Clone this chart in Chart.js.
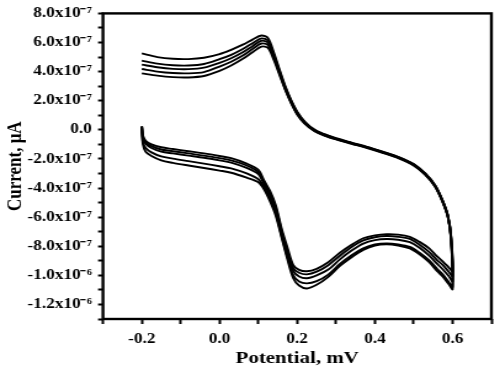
<!DOCTYPE html>
<html>
<head>
<meta charset="utf-8">
<script src="https://cdn.jsdelivr.net/npm/chart.js@4.4.1/dist/chart.umd.min.js"></script>
<style>
    body { margin: 0; background: #fff; }
</style>
</head>
<body>
<!-- the original figure is stretched sideways, so the canvas is too -->
<canvas id="cvChart" width="406" height="374" style="display:block;width:500px;height:374px"></canvas>
<script>
// potential (V) of the forward sweep, -0.2 -> 0.6
const upperPotential = [-0.2, -0.16, -0.12, -0.08, -0.04, 0.0, 0.03, 0.06, 0.085, 0.108, 0.125, 0.14, 0.155, 0.17, 0.185, 0.2, 0.22, 0.245, 0.27, 0.3, 0.34, 0.38, 0.42, 0.46, 0.5, 0.53, 0.555, 0.575, 0.588, 0.596, 0.6];
// potential (V) of the return sweep, 0.6 -> -0.2
const lowerPotential = [0.59, 0.575, 0.56, 0.54, 0.515, 0.49, 0.46, 0.43, 0.4, 0.37, 0.34, 0.31, 0.28, 0.25, 0.225, 0.205, 0.19, 0.175, 0.16, 0.145, 0.13, 0.115, 0.1, 0.07, 0.03, 0.0, -0.04, -0.08, -0.12, -0.15, -0.175, -0.19, -0.197, -0.2];

// current in units of 1e-7, one array per scan
const scan1Upper = [5.25, 5.0, 4.88, 4.86, 4.95, 5.2, 5.5, 5.85, 6.2, 6.48, 6.3, 5.3, 4.1, 2.95, 2.0, 1.25, 0.55, 0.0, -0.3, -0.58, -0.88, -1.17, -1.5, -1.85, -2.35, -3.0, -3.8, -4.9, -5.9, -7.3, -9.72];
const scan2Upper = [4.75, 4.55, 4.44, 4.42, 4.52, 4.85, 5.15, 5.55, 5.95, 6.28, 6.12, 5.15, 4.0, 2.88, 1.95, 1.2, 0.52, -0.02, -0.32, -0.6, -0.9, -1.19, -1.52, -1.87, -2.37, -3.02, -3.82, -4.92, -5.92, -7.35, -10.05];
const scan3Upper = [4.48, 4.3, 4.19, 4.17, 4.27, 4.6, 4.92, 5.33, 5.75, 6.12, 5.98, 5.05, 3.92, 2.82, 1.9, 1.15, 0.48, -0.05, -0.35, -0.62, -0.92, -1.21, -1.54, -1.9, -2.4, -3.05, -3.85, -4.95, -5.95, -7.4, -10.4];
const scan4Upper = [4.18, 4.0, 3.9, 3.88, 3.97, 4.35, 4.68, 5.1, 5.55, 5.93, 5.82, 4.95, 3.85, 2.76, 1.85, 1.1, 0.45, -0.08, -0.38, -0.64, -0.94, -1.23, -1.56, -1.92, -2.43, -3.08, -3.88, -4.98, -5.98, -7.45, -10.8];
const scan5Upper = [3.88, 3.72, 3.62, 3.6, 3.7, 4.05, 4.42, 4.88, 5.33, 5.72, 5.62, 4.8, 3.75, 2.7, 1.8, 1.05, 0.4, -0.1, -0.4, -0.66, -0.96, -1.25, -1.58, -1.95, -2.45, -3.1, -3.9, -5.0, -6.0, -7.5, -10.95];

const scan1Lower = [-9.45, -9.05, -8.7, -8.15, -7.7, -7.35, -7.2, -7.17, -7.25, -7.45, -7.9, -8.45, -9.1, -9.55, -9.72, -9.62, -9.3, -8.1, -6.8, -5.2, -4.2, -3.5, -2.75, -2.32, -1.95, -1.8, -1.62, -1.47, -1.32, -1.2, -1.0, -0.75, -0.4, 0.25];
const scan2Lower = [-9.75, -9.3, -8.95, -8.4, -7.9, -7.5, -7.35, -7.3, -7.38, -7.6, -8.05, -8.65, -9.3, -9.75, -9.93, -9.82, -9.5, -8.3, -6.95, -5.35, -4.35, -3.6, -2.9, -2.45, -2.1, -1.95, -1.77, -1.62, -1.47, -1.35, -1.12, -0.85, -0.5, 0.22];
const scan3Lower = [-10.05, -9.6, -9.2, -8.65, -8.1, -7.72, -7.55, -7.5, -7.58, -7.82, -8.3, -8.9, -9.6, -10.0, -10.2, -10.08, -9.7, -8.5, -7.1, -5.5, -4.5, -3.75, -3.05, -2.62, -2.25, -2.1, -1.92, -1.77, -1.62, -1.5, -1.25, -0.95, -0.6, 0.2];
const scan4Lower = [-10.45, -9.95, -9.55, -8.98, -8.45, -8.05, -7.87, -7.8, -7.88, -8.15, -8.62, -9.22, -9.95, -10.4, -10.55, -10.42, -10.0, -8.75, -7.3, -5.75, -4.75, -3.95, -3.4, -3.0, -2.65, -2.5, -2.32, -2.15, -1.98, -1.83, -1.55, -1.25, -0.85, 0.15];
const scan5Lower = [-10.6, -10.1, -9.7, -9.1, -8.55, -8.15, -7.95, -7.87, -7.95, -8.25, -8.75, -9.35, -10.1, -10.65, -10.9, -10.7, -10.2, -8.9, -7.4, -5.9, -4.9, -4.1, -3.6, -3.29, -2.95, -2.8, -2.62, -2.45, -2.27, -2.1, -1.8, -1.5, -1.0, 0.1];

const xTickValues = [-0.2, 0.0, 0.2, 0.4, 0.6];
const xTickLabels = ['-0.2', '0.0', '0.2', '0.4', '0.6'];
const yTickValues = [8, 6, 4, 2, 0, -2, -4, -6, -8, -10, -12];
const yTickLabels = ['8.0x10⁻⁷', '6.0x10⁻⁷', '4.0x10⁻⁷', '2.0x10⁻⁷', '0.0', '-2.0x10⁻⁷', '-4.0x10⁻⁷', '-6.0x10⁻⁷', '-8.0x10⁻⁷', '-1.0x10⁻⁶', '-1.2x10⁻⁶'];

const scans = [
    [scan1Upper, scan1Lower],
    [scan2Upper, scan2Lower],
    [scan3Upper, scan3Lower],
    [scan4Upper, scan4Lower],
    [scan5Upper, scan5Lower]
];

function scanPoints(upper, lower) {
    const pts = upper.map((y, i) => ({ x: upperPotential[i], y: y }));
    lower.forEach((y, i) => pts.push({ x: lowerPotential[i], y: y }));
    return pts;
}

function pickLabel(values, labels, v) {
    const i = values.findIndex(t => Math.abs(t - v) < 1e-6);
    return i < 0 ? '' : labels[i];
}

const tickFont = { family: '"Liberation Serif", "Times New Roman", serif', size: 14, weight: 'bold' };
const titleFont = { family: '"Liberation Serif", "Times New Roman", serif', size: 17, weight: 'bold' };

const framePlugin = {
    id: 'frame',
    afterDraw(chart) {
        const a = chart.chartArea;
        const ctx = chart.ctx;
        ctx.save();
        ctx.strokeStyle = '#000';
        ctx.lineWidth = 2.4;
        ctx.strokeRect(a.left, a.top, a.right - a.left, a.bottom - a.top);
        ctx.restore();
    }
};

const cvCtx = document.getElementById('cvChart').getContext('2d');
const cvChart = new Chart(cvCtx, {
    type: 'scatter',
    data: {
        datasets: scans.map((s, i) => ({
            label: 'Scan ' + (i + 1),
            data: scanPoints(s[0], s[1]),
            showLine: true,
            borderColor: '#000',
            backgroundColor: '#000',
            borderWidth: 1.9,
            pointRadius: 0,
            tension: 0.3
        }))
    },
    plugins: [framePlugin],
    options: {
        responsive: false,
        animation: false,
        devicePixelRatio: 1,
        layout: { padding: { left: 0, top: 12, right: 5.7, bottom: 0 } },
        plugins: {
            legend: { display: false },
            tooltip: { enabled: false }
        },
        scales: {
            x: {
                type: 'linear',
                min: -0.3,
                max: 0.7,
                afterFit: s => { s.height = 55; },
                border: { display: false },
                grid: { drawOnChartArea: false, drawTicks: true, tickLength: 5, tickColor: '#000', tickWidth: 2 },
                ticks: {
                    stepSize: 0.1,
                    autoSkip: false,
                    maxRotation: 0,
                    padding: 7,
                    color: '#000',
                    font: tickFont,
                    callback: v => pickLabel(xTickValues, xTickLabels, v)
                },
                title: { display: true, text: 'Potential, mV', color: '#000', font: titleFont, padding: { top: 0, bottom: 5 } }
            },
            y: {
                type: 'linear',
                min: -13,
                max: 8,
                afterFit: s => { s.width = 83.6; },
                border: { display: false },
                grid: { drawOnChartArea: false, drawTicks: true, tickLength: 4, tickColor: '#000', tickWidth: 2 },
                ticks: {
                    stepSize: 1,
                    autoSkip: false,
                    padding: 5,
                    color: '#000',
                    font: tickFont,
                    callback: v => pickLabel(yTickValues, yTickLabels, v)
                },
                title: { display: true, text: 'Current, μA', color: '#000', font: titleFont, padding: { top: 2, bottom: 0 } }
            }
        }
    }
});
</script>
</body>
</html>
